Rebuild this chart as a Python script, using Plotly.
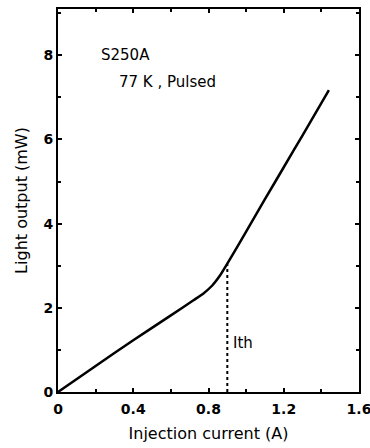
import plotly.graph_objects as go

current = [0, 0.2, 0.4, 0.6, 0.72, 0.77, 0.82, 0.86, 0.9, 1.0, 1.1, 1.2, 1.3, 1.44]
light = [0, 0.62, 1.23, 1.82, 2.18, 2.33, 2.53, 2.76, 3.05, 3.81, 4.58, 5.34, 6.1, 7.17]
ith_x = [0.9, 0.9]
ith_y = [0, 3.05]
x_ticks = [0, 0.4, 0.8, 1.2, 1.6]
x_labels = ["0", "0.4", "0.8", "1.2", "1.6"]
y_ticks = [0, 2, 4, 6, 8]
y_labels = ["0", "2", "4", "6", "8"]

font = "DejaVu Sans"
fig = go.Figure()
fig.add_trace(go.Scatter(x=current, y=light, mode="lines",
                         line=dict(color="black", width=2.5, shape="spline", smoothing=0.4),
                         showlegend=False))
fig.add_trace(go.Scatter(x=ith_x, y=ith_y, mode="lines",
                         line=dict(color="black", width=2, dash="dot"), showlegend=False))

fig.add_annotation(x=0.36, y=8.0, text="S250A", showarrow=False, xanchor="center",
                   font=dict(family=font, size=15, color="black"))
fig.add_annotation(x=0.58, y=7.36, text="77 K , Pulsed", showarrow=False, xanchor="center",
                   font=dict(family=font, size=15, color="black"))
fig.add_annotation(x=0.92, y=1.16, text="Ith", showarrow=False, xanchor="left",
                   font=dict(family=font, size=15, color="black"))

axis_common = dict(showline=True, linecolor="black", linewidth=2, mirror="ticks",
                   ticks="inside", ticklen=4, tickwidth=1.5, tickcolor="black",
                   showgrid=False, zeroline=False, ticklabeloverflow="allow",
                   automargin=False,
                   tickfont=dict(family=font, size=14, color="black", weight="bold"))
fig.update_xaxes(range=[0, 1.6], tickvals=x_ticks, ticktext=x_labels,
                 ticklabelstandoff=3,
                 minor=dict(dtick=0.2, ticks="inside", ticklen=3, tickcolor="black"),
                 title=dict(text="Injection current (A)", standoff=12,
                            font=dict(family=font, size=16, color="black")),
                 **axis_common)
fig.update_yaxes(range=[0, 9.1], tickvals=y_ticks, ticktext=y_labels,
                 minor=dict(dtick=1, ticks="inside", ticklen=3, tickcolor="black"),
                 title=dict(text="Light output (mW)", standoff=12,
                            font=dict(family=font, size=16, color="black")),
                 **axis_common)
fig.update_layout(width=370, height=448, margin=dict(l=58, r=11, t=9, b=56),
                  plot_bgcolor="white", paper_bgcolor="white")
fig.write_html("out.html", config={"displayModeBar": False},
               post_script="document.body.style.margin='0px';")
